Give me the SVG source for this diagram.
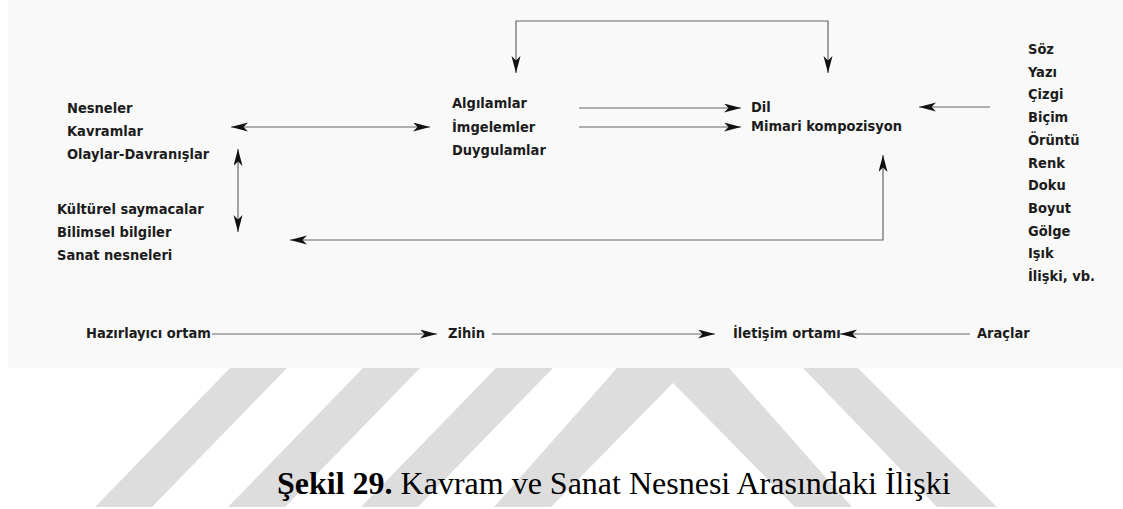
<svg xmlns="http://www.w3.org/2000/svg" width="1123" height="509" viewBox="0 0 1123 509">
  <defs>
    <marker id="ah" markerUnits="userSpaceOnUse" markerWidth="18" markerHeight="10" refX="17" refY="4.5" orient="auto-start-reverse">
      <path d="M0,0 L17,4.5 L0,9 L4.5,4.5 Z" fill="#111"/>
    </marker>
    <style>
      .t{font-family:"DejaVu Sans Condensed","DejaVu Sans",sans-serif;font-weight:bold;font-size:14.5px;fill:#1c1c1c}
      .c{fill:none;stroke:#666;stroke-width:1.2}
      .a{marker-end:url(#ah)}
      .b{marker-start:url(#ah);marker-end:url(#ah)}
      .wm{fill:#dddddd}
      .cap{font-family:"Liberation Serif","Times New Roman",serif;font-size:32px;fill:#000}
    </style>
  </defs>
  <rect width="1123" height="509" fill="#ffffff"/>
  <g id="watermark">
    <polygon class="wm" points="95,507 230,368 287,368 152,507"/>
    <polygon class="wm" points="228,507 363,368 420,368 285,507"/>
    <polygon class="wm" points="361,507 496,368 553,368 418,507"/>
    <polygon class="wm" points="494,507 617,368 729,368 852,507 795,507 673,383 551,507"/>
    <polygon class="wm" points="803,368 858,368 997,507 937,507"/>
  </g>
  <rect x="8" y="0" width="1115" height="368" fill="#f9f9f9"/>
  <g id="connectors">
    <path class="c b" d="M516,73 V21 H828 V73"/>
    <path class="c b" d="M231,127 H430"/>
    <path class="c b" d="M238,149 V232"/>
    <path class="c a" d="M579,108 H741"/>
    <path class="c a" d="M579,127 H741"/>
    <path class="c a" d="M990,107 H919"/>
    <path class="c b" d="M290,240 H883 V155"/>
    <path class="c a" d="M212,334 H437"/>
    <path class="c a" d="M492,334 H715"/>
    <path class="c a" d="M970,334 H840"/>
  </g>
  <g id="node-nesneler">
    <text class="t" x="67" y="113">Nesneler</text>
    <text class="t" x="67" y="136">Kavramlar</text>
    <text class="t" x="67" y="159">Olaylar-Davranışlar</text>
  </g>
  <g id="node-kulturel">
    <text class="t" x="57" y="214">Kültürel saymacalar</text>
    <text class="t" x="57" y="237">Bilimsel bilgiler</text>
    <text class="t" x="57" y="260">Sanat nesneleri</text>
  </g>
  <g id="node-algilamlar">
    <text class="t" x="452" y="108">Algılamlar</text>
    <text class="t" x="452" y="131.5">İmgelemler</text>
    <text class="t" x="452" y="155">Duygulamlar</text>
  </g>
  <g id="node-dil">
    <text class="t" x="751" y="112">Dil</text>
    <text class="t" x="751" y="131">Mimari kompozisyon</text>
  </g>
  <g id="node-araclar-list">
    <text class="t" x="1028" y="54">Söz</text>
    <text class="t" x="1028" y="76.7">Yazı</text>
    <text class="t" x="1028" y="99.4">Çizgi</text>
    <text class="t" x="1028" y="122.1">Biçim</text>
    <text class="t" x="1028" y="144.8">Örüntü</text>
    <text class="t" x="1028" y="167.5">Renk</text>
    <text class="t" x="1028" y="190.2">Doku</text>
    <text class="t" x="1028" y="212.9">Boyut</text>
    <text class="t" x="1028" y="235.6">Gölge</text>
    <text class="t" x="1028" y="258.3">Işık</text>
    <text class="t" x="1028" y="281">İlişki, vb.</text>
  </g>
  <g id="node-hazirlayici"><text class="t" x="86" y="338">Hazırlayıcı ortam</text></g>
  <g id="node-zihin"><text class="t" x="448" y="338">Zihin</text></g>
  <g id="node-iletisim"><text class="t" x="733" y="338">İletişim ortamı</text></g>
  <g id="node-araclar"><text class="t" x="977" y="338">Araçlar</text></g>
  <g id="caption">
    <text class="cap" x="277" y="494"><tspan font-weight="bold">Şekil 29.</tspan> Kavram ve Sanat Nesnesi Arasındaki İlişki</text>
  </g>
</svg>
